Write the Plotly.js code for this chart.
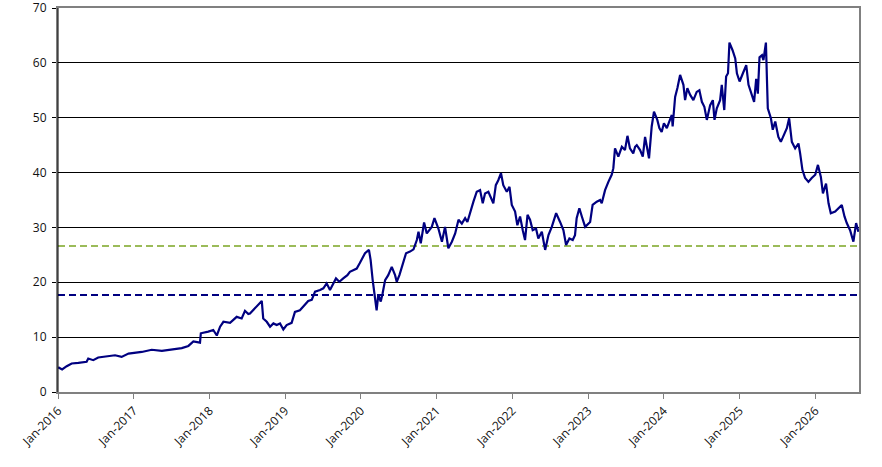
<!DOCTYPE html>
<html>
<head>
<meta charset="utf-8">
<script src="https://cdn.plot.ly/plotly-3.0.1.min.js"></script>
<style>html,body{margin:0;padding:0;background:#fff;}#chart{width:882px;height:467px;}</style>
</head>
<body>
<div id="chart"></div>
<script>
// Time of each reading, in decimal years
const years = [
2016.004,2016.057,2016.115,2016.181,2016.268,2016.379,2016.400,2016.466,2016.532,2016.664,
2016.753,2016.841,2016.929,2017.106,2017.238,2017.370,2017.502,2017.634,2017.721,2017.787,
2017.876,2017.885,2017.986,2018.052,2018.096,2018.140,2018.184,2018.272,2018.361,2018.427,
2018.470,2018.514,2018.536,2018.580,2018.625,2018.691,2018.712,2018.757,2018.801,2018.844,
2018.889,2018.933,2018.976,2019.021,2019.087,2019.131,2019.197,2019.240,2019.306,2019.351,
2019.395,2019.461,2019.505,2019.550,2019.593,2019.672,2019.716,2019.769,2019.822,2019.857,
2019.901,2019.946,2019.989,2020.055,2020.108,2020.131,2020.157,2020.188,2020.210,2020.231,
2020.263,2020.289,2020.320,2020.363,2020.408,2020.452,2020.474,2020.509,2020.554,2020.597,
2020.650,2020.694,2020.738,2020.760,2020.791,2020.835,2020.871,2020.937,2020.971,2021.024,
2021.069,2021.112,2021.156,2021.201,2021.244,2021.288,2021.333,2021.376,2021.407,2021.443,
2021.486,2021.531,2021.575,2021.610,2021.641,2021.684,2021.707,2021.750,2021.782,2021.816,
2021.852,2021.882,2021.927,2021.962,2021.993,2022.037,2022.067,2022.103,2022.139,2022.169,
2022.200,2022.235,2022.271,2022.314,2022.345,2022.390,2022.433,2022.477,2022.522,2022.579,
2022.631,2022.675,2022.711,2022.754,2022.799,2022.830,2022.852,2022.887,2022.918,2022.962,
2023.028,2023.063,2023.116,2023.160,2023.182,2023.226,2023.270,2023.314,2023.335,2023.358,
2023.402,2023.447,2023.490,2023.521,2023.556,2023.600,2023.622,2023.645,2023.688,2023.724,
2023.754,2023.777,2023.807,2023.843,2023.873,2023.917,2023.943,2023.975,2024.005,2024.041,
2024.085,2024.107,2024.120,2024.151,2024.181,2024.217,2024.260,2024.283,2024.313,2024.349,
2024.392,2024.437,2024.472,2024.503,2024.538,2024.569,2024.613,2024.649,2024.670,2024.701,
2024.745,2024.767,2024.798,2024.824,2024.847,2024.868,2024.908,2024.943,2024.966,2025.000,
2025.045,2025.089,2025.119,2025.164,2025.194,2025.221,2025.243,2025.264,2025.296,2025.317,
2025.349,2025.362,2025.375,2025.415,2025.441,2025.472,2025.515,2025.547,2025.581,2025.626,
2025.657,2025.692,2025.736,2025.780,2025.802,2025.832,2025.868,2025.911,2025.956,2026.000,
2026.036,2026.075,2026.102,2026.145,2026.176,2026.207,2026.264,2026.308,2026.353,2026.387,
2026.419,2026.462,2026.506,2026.542,2026.572
];
// Series values
const values = [
4.5,4.1,4.7,5.2,5.3,5.5,6.1,5.8,6.3,6.6,
6.7,6.4,7.0,7.3,7.7,7.5,7.8,8.0,8.4,9.2,
9.0,10.7,11.0,11.3,10.3,11.9,12.8,12.6,13.7,13.4,
14.8,14.2,14.3,14.9,15.6,16.6,13.4,12.8,11.9,12.5,
12.2,12.5,11.4,12.2,12.6,14.6,14.9,15.6,16.6,16.8,
18.3,18.6,18.9,19.8,18.6,20.7,20.1,20.7,21.3,21.9,
22.2,22.5,23.5,25.3,25.9,24.1,20.4,17.4,14.9,17.7,
16.5,18.0,20.4,21.3,22.8,21.3,20.1,21.3,23.1,25.3,
25.6,26.0,27.7,29.2,27.1,30.9,28.9,30.1,31.7,29.8,
27.4,30.1,26.2,27.4,28.9,31.4,30.7,31.7,31.0,32.9,
34.7,36.5,36.8,34.4,36.2,36.5,35.6,34.4,37.7,38.6,
39.9,37.7,36.5,37.4,34.1,32.9,30.4,32.0,29.5,27.7,
32.3,31.4,29.5,29.8,28.0,29.2,25.9,28.6,30.1,32.6,
31.0,29.5,26.8,28.0,27.7,28.6,31.7,33.5,32.0,30.1,
31.0,34.1,34.7,35.0,34.4,36.8,38.3,39.6,40.8,44.4,
42.9,44.7,44.1,46.7,44.4,43.5,44.7,45.0,44.1,42.9,
46.5,44.7,42.6,48.4,51.1,49.6,48.1,47.4,49.0,48.1,
49.6,50.5,48.4,53.8,55.4,57.8,56.0,53.2,55.4,54.2,
53.2,54.7,55.0,52.9,52.0,49.6,52.3,53.2,49.6,51.7,
53.2,56.0,51.4,57.5,58.1,63.7,62.3,60.8,58.1,56.6,
58.1,59.6,56.0,54.2,52.9,57.1,54.4,61.0,61.4,60.5,
63.7,56.9,51.7,49.9,47.8,49.3,46.5,45.6,46.8,48.1,
49.9,45.6,44.4,45.3,43.5,40.5,39.0,38.3,39.0,39.6,
41.4,39.2,36.2,38.0,34.4,32.6,32.9,33.5,34.1,32.0,
30.8,29.5,27.4,30.8,29.2
];
// Reference levels (dashed lines)
const levelNames = ['Upper level','Lower level'];
const levelValues = [26.6, 17.7];
const levelColors = ['#9BBB59', '#000080'];
const xStart = '2016-01-01';
const xEnd = '2026-07-31';
const yTicks = [0,10,20,30,40,50,60,70];

function yearToDate(t){
  const y = Math.floor(t);
  const start = Date.UTC(y,0,1), end = Date.UTC(y+1,0,1);
  const d = new Date(start + (t - y) * (end - start));
  return d.toISOString().slice(0,10);
}
const dates = years.map(yearToDate);

const traces = [];
levelValues.forEach((v,i)=>{
  traces.push({
    x:[xStart,xEnd], y:[v,v], mode:'lines', name:levelNames[i],
    line:{color:levelColors[i], width:2, dash:'7px,4px'}, hoverinfo:'skip'
  });
});
traces.push({
  x:dates, y:values, mode:'lines', name:'Series',
  line:{color:'#000080', width:2.2}
});

const layout = {
  width:882, height:467,
  margin:{l:58, r:23, t:8, b:75},
  paper_bgcolor:'#fff', plot_bgcolor:'#fff',
  showlegend:false,
  font:{family:'Open Sans, sans-serif', size:12, color:'#111'},
  xaxis:{
    type:'date', range:[xStart,xEnd],
    tick0:'2016-01-01', dtick:'M12', tickformat:'%b-%Y', tickangle:-45,
    ticks:'outside', ticklen:5, tickcolor:'#808080', tickwidth:1,
    showgrid:false, zeroline:false,
    showline:true, linecolor:'#808080', linewidth:2, mirror:true,
    tickfont:{size:12, color:'#111'}
  },
  yaxis:{
    range:[0,70], tickvals:yTicks, ticks:'outside', ticklen:4, tickcolor:'#000',
    showgrid:true, gridcolor:'#000', gridwidth:1, zeroline:false,
    showline:true, linecolor:'#808080', linewidth:2, mirror:true,
    ticklabeloverflow:'allow', ticklabelstandoff:3,
    tickfont:{size:12, color:'#111'}
  },
  shapes:[
    {type:'line', xref:'paper', yref:'paper', x0:0, x1:0, y0:0, y1:1, line:{color:'#000', width:1}}
  ]
};
Plotly.newPlot('chart', traces, layout, {displayModeBar:false, staticPlot:true});
</script>
</body>
</html>
